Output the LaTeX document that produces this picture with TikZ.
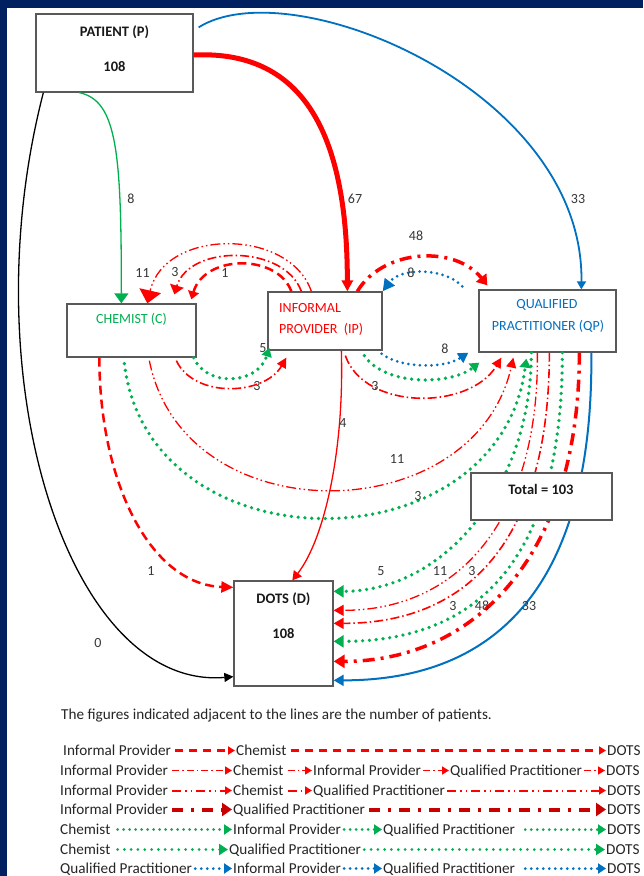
\documentclass[tikz,border=0pt]{standalone}
\usepackage{fontspec}
\setmainfont{Carlito}
\usetikzlibrary{arrows.meta}

\definecolor{navy}{RGB}{0,32,96}
\definecolor{xred}{RGB}{255,0,0}
\definecolor{dred}{RGB}{200,0,0}
\definecolor{xgreen}{RGB}{0,176,80}
\definecolor{xblue}{RGB}{0,112,192}
\definecolor{boxline}{RGB}{89,89,89}
\definecolor{numtext}{RGB}{55,55,55}

\tikzset{
  box/.style={draw=boxline, line width=1.3pt, fill=white, inner sep=0pt, rectangle},
  lbl/.style={font=\fontsize{14}{16}\selectfont, text=numtext, inner sep=0pt},
  boxtitle/.style={font=\fontsize{14.5}{16}\selectfont\bfseries, text=black!90, inner sep=0pt},
  boxname/.style={font=\fontsize{14}{16}\selectfont, inner sep=0pt},
  leg/.style={font=\fontsize{15.2}{18}\selectfont, text=black!85, anchor=base west, inner sep=0pt},
  tip/.style args={#1/#2}{-{Triangle[length=#1pt,width=#2pt]}},
  thinline/.style={line width=1.3pt},
  redthick/.style={draw=xred, line width=5pt},
  reddash/.style={draw=xred, line width=2.5pt, dash pattern=on 9pt off 5pt},
  reddashdot/.style={draw=xred, line width=1.6pt, dash pattern=on 9pt off 3pt on 1.5pt off 3pt},
  reddashdotdot/.style={draw=xred, line width=1.3pt, dash pattern=on 10pt off 3pt on 1.5pt off 3pt on 1.5pt off 3pt},
  redthickdd/.style={draw=xred, line width=3.5pt, dash pattern=on 12pt off 6pt on 3pt off 6pt},
  grndots/.style={draw=xgreen, line width=3.7pt, line cap=round, dash pattern=on 0pt off 6.8pt},
  bludots/.style={draw=xblue, line width=3pt, line cap=round, dash pattern=on 0pt off 5.8pt},
  % legend line styles
  lgA/.style={draw=xred, line width=2.5pt, dash pattern=on 8pt off 6pt, tip=7/8},
  lgB/.style={draw=xred, line width=1.6pt, dash pattern=on 7pt off 3pt on 1.5pt off 3pt, tip=7/8},
  lgC/.style={draw=xred, line width=2pt, dash pattern=on 9pt off 4pt on 1.5pt off 4pt on 1.5pt off 4pt, tip=7/8},
  lgD/.style={draw=dred, line width=4pt, dash pattern=on 11pt off 8pt on 3pt off 8pt, tip=10/13},
  lgE/.style={draw=xgreen, line width=3pt, line cap=round, dash pattern=on 0pt off 6pt, tip=8/10},
  lgF/.style={draw=xgreen, line width=3pt, line cap=round, dash pattern=on 0pt off 6.8pt, tip=9/11},
  lgG/.style={draw=xblue, line width=3pt, line cap=round, dash pattern=on 0pt off 6pt, tip=8/10},
}

% connector between two legend words
\newcommand\legarrow[4][4pt]{\draw[#2] ([xshift=#1,yshift=4.5pt]#3.base east) -- ([xshift=-1pt,yshift=4.5pt]#4.base west);}

\begin{document}
\begin{tikzpicture}[x=1pt,y=-1pt]
\useasboundingbox (0,0) rectangle (643,876);
\fill[white] (0,0) rectangle (643,876);
\fill[navy] (0,0) rectangle (643,8);
\fill[navy] (0,0) rectangle (7.3,876);

% ---------- boxes ----------
\node[box, minimum width=157pt, minimum height=78pt] (P) at (114.5,53) {};
\node[box, minimum width=129pt, minimum height=53pt] (C) at (131.5,330.5) {};
\node[box, minimum width=114pt, minimum height=58pt] (IP) at (325,321) {};
\node[box, minimum width=137pt, minimum height=62pt] (QP) at (547.5,321) {};
\node[box, minimum width=99pt, minimum height=105pt] (D) at (283.5,633.5) {};

\node[boxtitle] (Pt) at (114.5,32) {PATIENT (P)};
\node[boxtitle] (Pn) at (114.5,67) {108};
\node[boxname, text=xgreen] (Ct) at (131.5,319) {CHEMIST (C)};
\node[boxname, text=xred, anchor=west] (IPt1) at (279,308) {INFORMAL};
\node[boxname, text=xred, anchor=west] (IPt2) at (279,329) {PROVIDER\ \ (IP)};
\node[boxname, text=xblue] (QPt1) at (547,305) {QUALIFIED};
\node[boxname, text=xblue] (QPt2) at (548,326) {PRACTITIONER (QP)};
\node[boxtitle] (Dt) at (283.5,599) {DOTS (D)};
\node[boxtitle] (Dn) at (283.5,634) {108};

% ---------- from the patient ----------
\draw[thinline, draw=black, tip=9/9] ([xshift=8pt]P.south west)
  .. controls +(-74,287) and +(-164,14) .. ([yshift=10pt]D.south west);
\draw[thinline, draw=xgreen, tip=10/14] ([xshift=44pt]P.south west)
  .. controls +(38,8) and +(0,-150) .. ([xshift=55pt]C.north west);
\draw[redthick, tip=11/11] ([yshift=-2pt]P.east)
  .. controls +(107,-5) and +(0,-162) .. ([xshift=80pt]IP.north west);
\draw[draw=xblue, line width=1.8pt, tip=8/9] ([xshift=5pt,yshift=-14pt]P.north east)
  .. controls +(92,-58) and +(3,-200) .. ([xshift=103pt]QP.north west);
\node[lbl] (n8a) at (131,199) {8};
\node[lbl] (n67) at (355,199) {67};
\node[lbl] (n33a) at (578,199) {33};
\node[lbl] (n0) at (98,643) {0};

% ---------- informal provider to chemist ----------
\draw[reddashdotdot, tip=13/22] ([xshift=44pt]IP.north west)
  .. controls +(-22,-64) and +(17,-75) .. ([xshift=81pt]C.north west);
\draw[reddashdot, tip=9/14] ([xshift=34pt]IP.north west)
  .. controls +(-17,-47) and +(15,-50) .. ([xshift=108pt,yshift=9pt]C.north west);
\draw[reddash, tip=8/11] ([xshift=24pt]IP.north west)
  .. controls +(-14,-38) and +(13,-45) .. ([xshift=125pt,yshift=4pt]C.north west);
\node[lbl] (n11a) at (142.5,273) {11};
\node[lbl] (n3a) at (175,272) {3};
\node[lbl] (n1a) at (225,273) {1};

% ---------- informal provider and qualified practitioner ----------
\draw[redthickdd, tip=10/13] ([xshift=90pt]IP.north west)
  .. controls +(25,-42) and +(-33,-41) .. ([xshift=9pt,yshift=4pt]QP.north west);
\node[lbl] (n48a) at (416,236) {48};
\draw[bludots, tip=12/12] ([xshift=-16pt,yshift=3pt]QP.north west)
  .. controls +(-18,-19) and +(18,-24) .. (IP.north east);
\node[lbl] (n8b) at (411,273) {8};

\draw[bludots, tip=10/11] ([xshift=-1pt,yshift=-3pt]IP.south east)
  .. controls +(19,15) and +(-24,16) .. ([xshift=-10pt]QP.south west);
\node[lbl] (n8c) at (445,349) {8};
\draw[grndots, tip=9/11] ([xshift=97pt,yshift=-5pt]IP.south west)
  .. controls +(20,30) and +(-30,23) .. ([xshift=1pt,yshift=-10pt]QP.south west);
\draw[reddashdot, tip=10/10] ([xshift=78pt,yshift=-5pt]IP.south west)
  .. controls +(19,55) and +(-32,53) .. ([xshift=23pt,yshift=-5pt]QP.south west);
\node[lbl] (n3c) at (375,386) {3};

% ---------- chemist onwards ----------
\draw[grndots, tip=9/10] ([xshift=-3pt]C.south east)
  .. controls +(12,29) and +(-12,38) .. ([xshift=2pt,yshift=3pt]IP.south west);
\node[lbl] (n5a) at (263,348) {5};
\draw[reddashdot, tip=10/10] ([xshift=110pt,yshift=-3pt]C.south west)
  .. controls +(18,38) and +(-22,38) .. ([xshift=19pt,yshift=-7pt]IP.south west);
\node[lbl] (n3b) at (257,386) {3};

\draw[reddashdotdot, tip=10/10] ([xshift=83pt,yshift=-3pt]C.south west)
  .. controls +(35,175) and +(-39,173) .. ([xshift=35pt,yshift=-5pt]QP.south west);
\node[lbl] (n11b) at (397,459) {11};
\draw[grndots, tip=9/11] ([xshift=58pt,yshift=-6pt]C.south west)
  .. controls +(25,207) and +(-27,210) .. ([xshift=48pt,yshift=-6pt]QP.south west);
\node[lbl] (n3d) at (418,496) {3};

\draw[reddash, tip=12/11] ([xshift=33pt]C.south west)
  .. controls +(0,123) and +(-84,-3) .. ([yshift=-7pt]D.north west);
\node[lbl] (n1b) at (151,571) {1};

\draw[thinline, draw=xred, tip=9/10] ([xshift=74pt]IP.south west)
  .. controls +(3,100) and +(32,-41) .. ([xshift=59pt]D.north west);
\node[lbl] (n4) at (343,423) {4};

% ---------- qualified practitioner to DOTS ----------
\draw[grndots, tip=10/12] ([xshift=53pt]QP.south west)
  .. controls +(0,133) and +(112,0) .. ([yshift=-11pt]D.north east);
\draw[reddashdotdot, tip=10/11] ([xshift=59pt]QP.south west)
  .. controls +(2,158) and +(132,0) .. ([yshift=-30pt]D.north east);
\draw[reddashdot, tip=10/11] ([xshift=71pt]QP.south west)
  .. controls +(0,178) and +(142,0) .. ([yshift=-43pt]D.north east);
\draw[grndots, tip=10/12] ([xshift=84pt]QP.south west)
  .. controls +(0,198) and +(152,0) .. ([yshift=-61pt]D.north east);
\draw[redthickdd, tip=11/13] ([xshift=101pt]QP.south west)
  .. controls +(0,208) and +(137,0) .. ([yshift=-81pt]D.north east);
\draw[draw=xblue, line width=2pt, tip=10/11] ([xshift=113pt]QP.south west)
  .. controls +(2,228) and +(167,0) .. ([yshift=-100pt]D.north east);
\node[lbl] (n5b) at (381,571) {5};
\node[lbl] (n11c) at (440,571) {11};
\node[lbl] (n3e) at (472,571) {3};
\node[lbl] (n3f) at (453,606) {3};
\node[lbl] (n48b) at (482,606) {48};
\node[lbl] (n33b) at (529,606) {33};

% total box sits over the bundle of lines
\node[box, minimum width=141pt, minimum height=47pt] (T) at (541.5,496.5) {};
\node[boxtitle] (Tt) at (541,489) {Total = 103};

% ---------- key ----------
\node[leg] (hdr) at (61,719) {The figures indicated adjacent to the lines are the number of patients.};

\node[leg] (r1a) at (63,755) {Informal Provider};
\node[leg] (r1b) at (236,755) {Chemist};
\node[leg] (r1c) at (607,755) {DOTS};
\legarrow{lgA}{r1a}{r1b}
\legarrow{lgA}{r1b}{r1c}

\node[leg] (r2a) at (60,775) {Informal Provider};
\node[leg] (r2b) at (233,775) {Chemist};
\node[leg] (r2c) at (313,775) {Informal Provider};
\node[leg] (r2d) at (450,775) {Qualified Practitioner};
\node[leg] (r2e) at (606,775) {DOTS};
\legarrow{lgB}{r2a}{r2b}
\legarrow{lgB}{r2b}{r2c}
\legarrow[2pt]{lgB}{r2c}{r2d}
\legarrow[2pt]{lgB}{r2d}{r2e}

\node[leg] (r3a) at (60,795) {Informal Provider};
\node[leg] (r3b) at (233,795) {Chemist};
\node[leg] (r3c) at (313,795) {Qualified Practitioner};
\node[leg] (r3d) at (607,795) {DOTS};
\legarrow{lgC}{r3a}{r3b}
\legarrow{lgC}{r3b}{r3c}
\legarrow[2pt]{lgC}{r3c}{r3d}

\node[leg] (r4a) at (60,814) {Informal Provider};
\node[leg] (r4b) at (233,814) {Qualified Practitioner};
\node[leg] (r4c) at (607,814) {DOTS};
\legarrow{lgD}{r4a}{r4b}
\legarrow{lgD}{r4b}{r4c}

\node[leg] (r5a) at (60,834) {Chemist};
\node[leg] (r5b) at (233,834) {Informal Provider};
\node[leg] (r5c) at (383,834) {Qualified Practitioner};
\node[leg] (r5d) at (607,834) {DOTS};
\legarrow[7pt]{lgE}{r5a}{r5b}
\legarrow[3pt]{lgE}{r5b}{r5c}
\legarrow[10pt]{lgE}{r5c}{r5d}

\node[leg] (r6a) at (60,854) {Chemist};
\node[leg] (r6b) at (229,854) {Qualified Practitioner};
\node[leg] (r6c) at (606,854) {DOTS};
\legarrow[7pt]{lgF}{r6a}{r6b}
\legarrow[3pt]{lgF}{r6b}{r6c}

\node[leg] (r7a) at (60,873) {Qualified Practitioner};
\node[leg] (r7b) at (233,873) {Informal Provider};
\node[leg] (r7c) at (383,873) {Qualified Practitioner};
\node[leg] (r7d) at (607,873) {DOTS};
\legarrow[3pt]{lgG}{r7a}{r7b}
\legarrow[3pt]{lgG}{r7b}{r7c}
\legarrow[10pt]{lgG}{r7c}{r7d}
\end{tikzpicture}
\end{document}
